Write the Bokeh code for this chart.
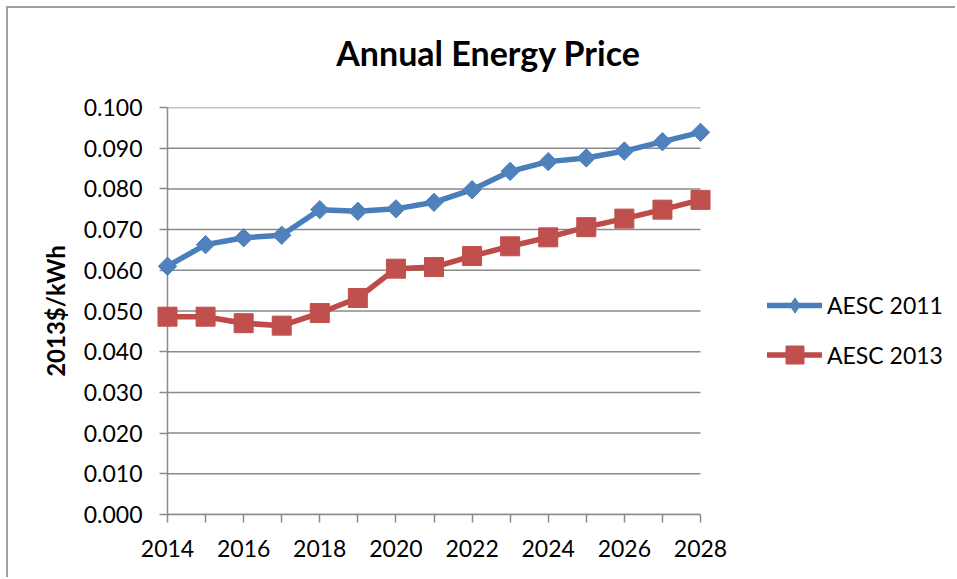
import math
from bokeh.plotting import figure
from bokeh.models import (Range1d, FixedTicker, Legend, LegendItem,
                          NumeralTickFormatter)
from bokeh.core.properties import value
from bokeh.embed import file_html
from bokeh.resources import INLINE

# ---------------- data ----------------
years = list(range(2014, 2029))
aesc_2011 = [0.0610, 0.0663, 0.0680, 0.0686, 0.0749, 0.0745, 0.0751, 0.0767,
             0.0798, 0.0843, 0.0867, 0.0876, 0.0893, 0.0916, 0.0939]
aesc_2013 = [0.0486, 0.0486, 0.0470, 0.0464, 0.0495, 0.0532, 0.0604, 0.0608,
             0.0635, 0.0659, 0.0681, 0.0706, 0.0727, 0.0749, 0.0773]
series_names = ["AESC 2011", "AESC 2013"]
y_ticks = [0.0, 0.01, 0.02, 0.03, 0.04, 0.05, 0.06, 0.07, 0.08, 0.09, 0.10]
x_tick_labels = ["2014", "", "2016", "", "2018", "", "2020", "", "2022", "",
                 "2024", "", "2026", "", "2028"]
title_text = "Annual Energy Price"
y_label = "2013$/kWh"

# ---------------- layout / styles ----------------
FONT = "Lato"
GRID = "#8a8a8a"
BLUE_LINE, BLUE_MARK = "#4A7EBB", "#4F81BD"
RED_LINE, RED_MARK = "#BE4B48", "#C0504D"

W, H = 955, 577
LEFT, RIGHT_AXIS, TOP, BOTTOM = 167, 700, 107, 514
TITLE_CX, TITLE_BASE = 488, 52          # title position in pixels
# the plotting frame runs on to the right edge so that the legend (drawn
# inside the frame) is not clipped; the axis and grid stop at the last year
px_per_year = (RIGHT_AXIS - LEFT) / (years[-1] - years[0])
px_per_unit = (BOTTOM - TOP) / (y_ticks[-1] - y_ticks[0])
x_end = years[0] + (W - LEFT) / px_per_year

p = figure(width=W, height=H,
           x_range=Range1d(years[0], x_end), y_range=Range1d(y_ticks[0], y_ticks[-1]),
           output_backend="svg", toolbar_location=None,
           min_border_left=LEFT, min_border_right=0,
           min_border_top=TOP, min_border_bottom=H - BOTTOM)
p.styles = {"box-shadow": "inset 6px 6px 0 0 white, inset 8px 8px 0 0 #a0a0a0",
            "background-color": "white"}
p.outline_line_color = None
p.background_fill_color = None
p.border_fill_color = None

# title (text glyph at overlay level, so it is not clipped to the frame)
p.text(x=[years[0] + (TITLE_CX - LEFT) / px_per_year],
       y=[y_ticks[0] + (BOTTOM - TITLE_BASE) / px_per_unit],
       text=[title_text], text_align="center", text_baseline="alphabetic",
       text_font=value(FONT), text_font_style="bold", text_font_size="34px",
       text_color="black", level="overlay")

p.xgrid.visible = False
p.ygrid.visible = False
# horizontal grid lines, limited to the span of the x axis
p.segment(x0=[years[0]] * len(y_ticks), x1=[years[-1]] * len(y_ticks),
          y0=y_ticks, y1=y_ticks, line_color=GRID, line_width=1.5,
          level="underlay")

xa = p.xaxis[0]
xa.bounds = (years[0], years[-1])
xa.ticker = FixedTicker(ticks=years)
xa.major_label_overrides = {yr: lab for yr, lab in zip(years, x_tick_labels)}
xa.major_tick_in = 0
xa.major_tick_out = 8
xa.minor_tick_line_color = None
xa.axis_line_color = GRID
xa.axis_line_width = 1.5
xa.major_tick_line_color = GRID
xa.major_tick_line_width = 1.5
xa.major_label_text_font = FONT
xa.major_label_text_font_size = "23px"
xa.major_label_text_color = "black"
xa.major_label_standoff = 17

ya = p.yaxis[0]
ya.ticker = FixedTicker(ticks=y_ticks)
ya.formatter = NumeralTickFormatter(format="0.000")
ya.major_tick_in = 0
ya.major_tick_out = 8
ya.minor_tick_line_color = None
ya.axis_line_color = GRID
ya.axis_line_width = 1.5
ya.major_tick_line_color = GRID
ya.major_tick_line_width = 1.5
ya.major_label_text_font = FONT
ya.major_label_text_font_size = "23px"
ya.major_label_text_color = "black"
ya.major_label_standoff = 17
ya.axis_label = y_label
ya.axis_label_text_font = FONT
ya.axis_label_text_font_style = "bold"
ya.axis_label_text_font_size = "24px"
ya.axis_label_text_color = "black"
ya.axis_label_standoff = 11

l1 = p.line(years, aesc_2011, line_color=BLUE_LINE, line_width=5.5,
            line_join="round", line_cap="round")
# diamond marker used for the legend swatch; hidden under the plot markers
k1 = p.scatter(years, aesc_2011, marker="diamond", size=12,
               fill_color=BLUE_MARK, line_color=BLUE_MARK)
m1 = p.scatter(years, aesc_2011, marker="square", angle=math.pi / 4, size=13,
               fill_color=BLUE_MARK, line_color=BLUE_MARK, level="overlay")
l2 = p.line(years, aesc_2013, line_color=RED_LINE, line_width=5.5,
            line_join="round", line_cap="round")
m2 = p.scatter(years, aesc_2013, marker="square", size=19,
               fill_color=RED_MARK, line_color=RED_MARK, level="overlay")

def make_legend(name, rends, gh, loc):
    lg = Legend(items=[LegendItem(label=name, renderers=rends)],
                location=loc, glyph_width=55, glyph_height=gh,
                label_standoff=5, padding=0, margin=0, spacing=0,
                border_line_color=None, background_fill_alpha=0,
                label_text_font=FONT, label_text_font_size="23px",
                label_text_color="black")
    p.add_layout(lg, "center")

make_legend(series_names[0], [l1, k1], 38, (600, 190))
make_legend(series_names[1], [l2, m2], 45, (600, 137))

open("out.html", "w").write(file_html(p, INLINE))
